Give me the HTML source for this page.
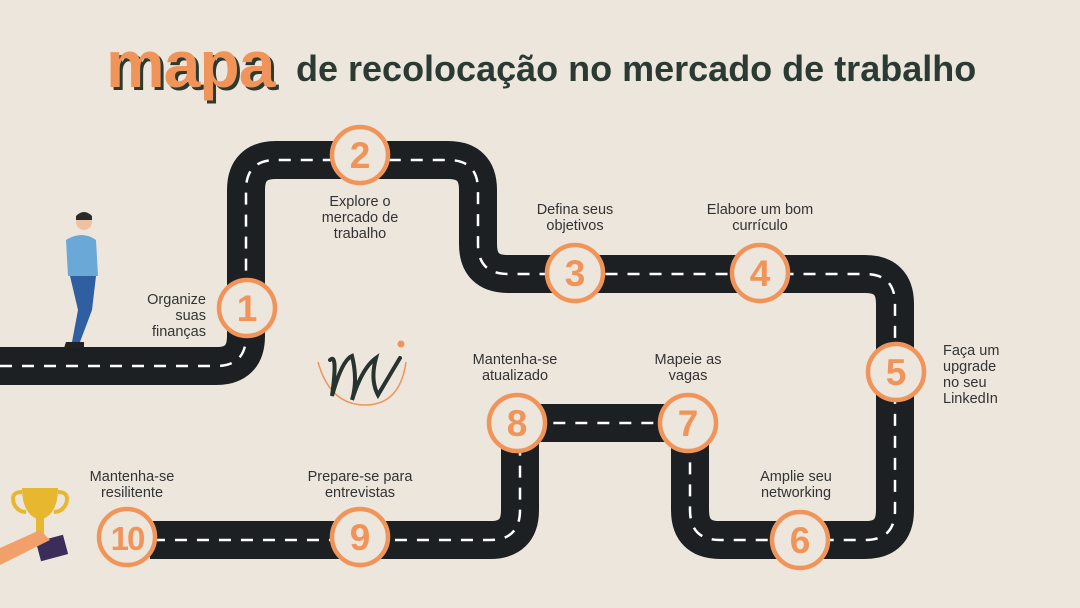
<!DOCTYPE html>
<html><head><meta charset="utf-8"><style>
html,body{margin:0;padding:0;}
body{width:1080px;height:608px;background:#ede6dc;position:relative;overflow:hidden;font-family:"Liberation Sans",sans-serif;}
.t{position:absolute;color:#333;font-size:14.5px;line-height:16px;}
.c{text-align:center;}
</style></head><body>
<svg width="1080" height="608" style="position:absolute;left:0;top:0">
<defs><path id="road" d="M0,366 H216 Q246,366 246,336 V190 Q246,160 276,160 H448 Q478,160 478,190 V244 Q478,274 508,274 H865 Q895,274 895,304 V510 Q895,540 865,540 H720 Q690,540 690,510 V423 H520 V510 Q520,540 490,540 H150"/></defs>
<use href="#road" fill="none" stroke="#1c2022" stroke-width="38" stroke-linejoin="round"/>
<use href="#road" fill="none" stroke="#fff" stroke-width="2.5" stroke-dasharray="12 10"/>
<g fill="#ede6dc" stroke="#f0945a" stroke-width="4.5">
<circle cx="247" cy="308" r="28"/><circle cx="360" cy="155" r="28"/><circle cx="575" cy="273" r="28"/><circle cx="760" cy="273" r="28"/><circle cx="896" cy="372" r="28"/><circle cx="800" cy="540" r="28"/><circle cx="688" cy="423" r="28"/><circle cx="517" cy="423" r="28"/><circle cx="360" cy="537" r="28"/><circle cx="127" cy="537" r="28"/>
</g>
<g fill="#f0945a" font-family="Liberation Sans" font-weight="bold" font-size="37" text-anchor="middle">
<text x="247" y="321">1</text><text x="360" y="168">2</text><text x="575" y="286">3</text><text x="760" y="286">4</text><text x="896" y="385">5</text><text x="800" y="553">6</text><text x="688" y="436">7</text><text x="517" y="436">8</text><text x="360" y="550">9</text><text x="127" y="550" font-size="33" letter-spacing="-2">10</text>
</g>
<path d="M318,362 Q330,405 365,405 Q400,405 406,362" fill="none" stroke="#f0945a" stroke-width="1.5"/>
<path d="M330,360 Q338,352 332,396 Q342,360 352,356 Q358,380 352,400 Q362,368 376,358 Q370,380 378,395 Q388,378 400,358" fill="none" stroke="#26332e" stroke-width="4" stroke-linecap="round"/>
<circle cx="401" cy="344" r="3.5" fill="#f0945a"/>
<circle cx="84" cy="222" r="8" fill="#f0c0a0"/><path d="M76,216 Q84,208 92,216 L92,220 L76,220Z" fill="#2a2a2a"/>
<path d="M66,240 Q82,230 96,240 L98,276 L68,276Z" fill="#6aa8d8"/>
<path d="M70,276 L96,276 L92,310 L80,342 L72,342 L78,310Z" fill="#2f5fa0"/>
<path d="M66,342 L84,342 L84,348 L64,348Z" fill="#222"/>
<path d="M22,488 L58,488 Q58,515 40,520 Q22,515 22,488Z" fill="#e8b730"/>
<path d="M22,492 Q10,492 14,504 Q18,512 26,512 M58,492 Q70,492 66,504 Q62,512 54,512" fill="none" stroke="#e8b730" stroke-width="4"/>
<rect x="36" y="518" width="8" height="20" fill="#e8b730"/>
<rect x="38" y="538" width="28" height="20" fill="#3a2d5a" transform="rotate(-15 52 548)"/>
<path d="M0,548 L40,530 L50,540 L0,565Z" fill="#f2a06a"/>
</svg>
<div style="position:absolute;left:106px;top:26px;font-size:66px;font-weight:bold;color:#f0945a;letter-spacing:-1px;text-shadow:3px 3px 0 #2b3a32;">mapa</div>
<div style="position:absolute;left:296px;top:48px;font-size:36px;font-weight:bold;color:#2b3a32;white-space:nowrap;">de recolocação no mercado de trabalho</div>
<div class="t" style="left:134px;top:292px;text-align:right;width:72px">Organize<br>suas<br>finanças</div>
<div class="t c" style="left:300px;top:194px;width:120px">Explore o<br>mercado de<br>trabalho</div>
<div class="t c" style="left:515px;top:202px;width:120px">Defina seus<br>objetivos</div>
<div class="t c" style="left:690px;top:202px;width:140px">Elabore um bom<br>currículo</div>
<div class="t" style="left:943px;top:343px">Faça um<br>upgrade<br>no seu<br>LinkedIn</div>
<div class="t c" style="left:736px;top:469px;width:120px">Amplie seu<br>networking</div>
<div class="t c" style="left:628px;top:352px;width:120px">Mapeie as<br>vagas</div>
<div class="t c" style="left:455px;top:352px;width:120px">Mantenha-se<br>atualizado</div>
<div class="t c" style="left:290px;top:469px;width:140px">Prepare-se para<br>entrevistas</div>
<div class="t c" style="left:72px;top:469px;width:120px">Mantenha-se<br>resilitente</div>
</body></html>
